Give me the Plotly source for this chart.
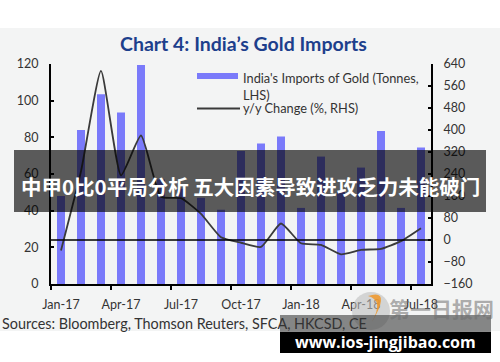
import plotly.graph_objects as go

# ---------------- data ----------------
months = ["Jan-17", "Feb-17", "Mar-17", "Apr-17", "May-17", "Jun-17", "Jul-17",
          "Aug-17", "Sep-17", "Oct-17", "Nov-17", "Dec-17", "Jan-18", "Feb-18",
          "Mar-18", "Apr-18", "May-18", "Jun-18", "Jul-18"]
imports_tonnes = [48, 84, 103.5, 93.5, 119.5, 57, 52, 47, 40.5, 72.5, 76.7, 80.5,
                  41.5, 69.5, 50.5, 63.5, 83.5, 41.5, 74.5]
yoy_change = [-38, 250, 615, 235, 380, 157, 152, 95, 10, -10, -25, 60,
              -12, -18, -52, -36, -32, -4, 43]
label_every = 3

title_text = "Chart 4: India\u2019s Gold Imports"
legend_bar = "India's Imports of Gold (Tonnes,<br>LHS)"
legend_line = "y/y Change (%, RHS)"
source_text = "Sources: Bloomberg, Thomson Reuters, SFCA, HKCSD, CE"
banner_text = "中甲0比0平局分析 五大因素导致进攻乏力未能破门"
wm_url = "www.ios-jingjibao.com"
wm_logo = "第一日报网"

# ---------------- layout geometry (pixels) ----------------
W, H = 500, 362
L, R, T, B = 51, 431, 64, 284


def px(xp):
    return (xp - L) / (R - L)


def py(yp):
    return (B - yp) / (B - T)


idx = list(range(len(months)))
FONT = "Lato"

fig = go.Figure()
fig.add_trace(go.Bar(x=idx, y=imports_tonnes, width=0.4,
                     marker=dict(color="rgb(122,122,250)", line=dict(width=0)),
                     showlegend=False, hoverinfo="skip"))
fig.add_trace(go.Scatter(x=idx, y=yoy_change, yaxis="y2", mode="lines",
                         line=dict(color="#3a3a3a", width=1.8, shape="spline", smoothing=0.5),
                         showlegend=False, hoverinfo="skip"))

shapes = []
# chart background band
shapes.append(dict(type="rect", xref="paper", yref="paper", layer="below",
                   x0=px(-2), x1=px(W + 2), y0=py(28), y1=py(331),
                   fillcolor="#f3f4f4", line=dict(width=0)))
# RHS zero line
shapes.append(dict(type="line", xref="paper", yref="y2", x0=0, x1=1, y0=0, y1=0,
                   line=dict(color="black", width=1.6), layer="above"))
# legend symbols
shapes.append(dict(type="rect", xref="paper", yref="paper",
                   x0=px(197), x1=px(238), y0=py(79), y1=py(73),
                   fillcolor="rgb(122,122,250)", line=dict(width=0)))
shapes.append(dict(type="line", xref="paper", yref="paper",
                   x0=px(197), x1=px(240), y0=py(108.5), y1=py(108.5),
                   line=dict(color="#3a3a3a", width=1.8)))
# banner overlay
shapes.append(dict(type="rect", xref="paper", yref="paper", layer="above",
                   x0=px(14), x1=px(486), y0=py(150), y1=py(212),
                   fillcolor="rgba(0,0,0,0.63)", line=dict(width=0)))
# watermark logo circle + swoosh
shapes.append(dict(type="circle", xref="paper", yref="paper", layer="above",
                   x0=px(352), x1=px(390), y0=py(330), y1=py(292),
                   fillcolor="rgba(190,190,190,0.6)", line=dict(width=0)))
shapes.append(dict(type="path", xref="paper", yref="paper", layer="above",
                   path=("M {:.4f},{:.4f} Q {:.4f},{:.4f} {:.4f},{:.4f} "
                         "Q {:.4f},{:.4f} {:.4f},{:.4f} Z").format(
                       px(368), py(296), px(392), py(288), px(372), py(322),
                       px(384), py(300), px(368), py(296)),
                   fillcolor="rgba(240,150,40,0.85)", line=dict(width=0)))
# watermark bands
shapes.append(dict(type="rect", xref="paper", yref="paper", layer="above",
                   x0=px(280), x1=px(491), y0=py(332), y1=py(315),
                   fillcolor="rgba(60,60,60,0.6)", line=dict(width=0)))
shapes.append(dict(type="rect", xref="paper", yref="paper", layer="above",
                   x0=px(280), x1=px(491), y0=py(353), y1=py(332),
                   fillcolor="black", line=dict(width=0)))

annotations = [
    dict(text="<b>" + title_text + "</b>", xref="paper", yref="paper",
         x=px(243), y=py(43), showarrow=False, xanchor="center", yanchor="middle",
         font=dict(family=FONT, size=19.5, color="#1d3f8c")),
    dict(text=legend_bar, xref="paper", yref="paper", x=px(241), y=py(67.5),
         showarrow=False, xanchor="left", yanchor="top", align="left",
         font=dict(family=FONT, size=12.8, color="#333333")),
    dict(text=legend_line, xref="paper", yref="paper", x=px(241), y=py(108),
         showarrow=False, xanchor="left", yanchor="middle", align="left",
         font=dict(family=FONT, size=12.8, color="#333333")),
    dict(text=source_text, xref="paper", yref="paper", x=px(0), y=py(323),
         showarrow=False, xanchor="left", yanchor="middle",
         font=dict(family=FONT, size=14.4, color="#333333")),
    dict(text="<b>" + banner_text + "</b>", xref="paper", yref="paper",
         x=px(250), y=py(186), showarrow=False, xanchor="center", yanchor="middle",
         font=dict(family="Noto Sans CJK SC", size=20.5, color="white")),
    dict(text="<b>" + wm_logo + "</b>", xref="paper", yref="paper",
         x=px(441), y=py(308), showarrow=False, xanchor="center", yanchor="middle",
         font=dict(family="Noto Sans CJK SC", size=21, color="rgba(110,110,110,0.55)")),
    dict(text="<b>" + wm_url + "</b>", xref="paper", yref="paper",
         x=px(385), y=py(342), showarrow=False, xanchor="center", yanchor="middle",
         font=dict(family="Open Sans", size=16, color="white")),
]

fig.update_layout(
    width=W, height=H,
    margin=dict(l=L, r=W - R, t=T, b=H - B, pad=0),
    paper_bgcolor="white", plot_bgcolor="rgba(0,0,0,0)",
    bargap=0.6, showlegend=False,
    font=dict(family=FONT, size=12.5, color="#333333"),
    xaxis=dict(range=[-0.5, len(months) - 0.5],
               tickvals=[i - 0.5 for i in idx[::label_every]],
               ticktext=months[::label_every],
               ticks="outside", ticklen=4, tickwidth=1.5, tickcolor="black",
               ticklabelshift=10, ticklabelstandoff=4,
               showline=True, linecolor="black", linewidth=2,
               showgrid=False, zeroline=False, fixedrange=True,
               tickfont=dict(family=FONT, size=12.5, color="#333333")),
    yaxis=dict(range=[0, 120], dtick=20, ticks="inside", ticklen=3, tickwidth=1.5,
               tickcolor="black", showline=True, linecolor="black", linewidth=2,
               showgrid=False, zeroline=False, ticklabelstandoff=8,
               tickfont=dict(family=FONT, size=12.5, color="#333333")),
    yaxis2=dict(range=[-160, 640], dtick=80, overlaying="y", side="right",
                ticks="inside", ticklen=3, tickwidth=1.5, tickcolor="black",
                showline=True, linecolor="black", linewidth=2,
                showgrid=False, zeroline=False, ticklabelstandoff=8,
                tickfont=dict(family=FONT, size=12.5, color="#333333")),
    shapes=shapes, annotations=annotations,
)

fig.write_html("out.html", config={"displayModeBar": False},
               post_script="document.body.style.margin='0';")
